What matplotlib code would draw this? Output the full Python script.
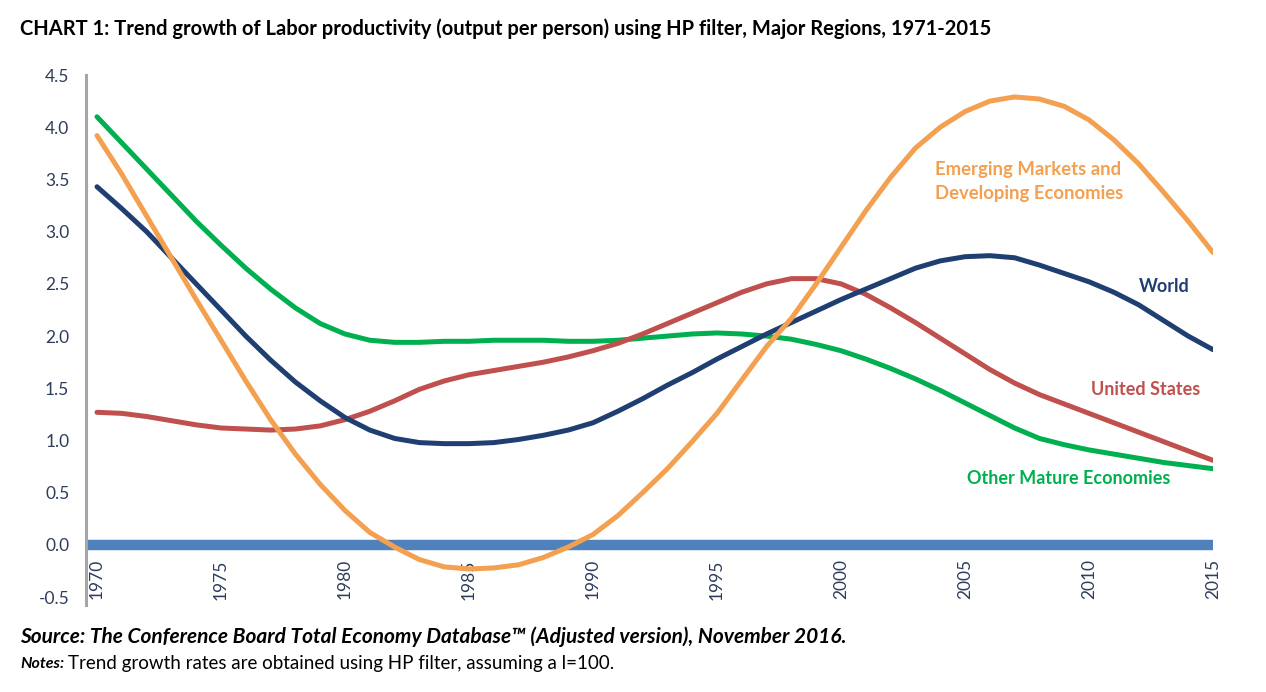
import numpy as np
import matplotlib
matplotlib.use("Agg")
import matplotlib.pyplot as plt

plt.rcParams['font.family'] = ['Lato', 'DejaVu Sans']

years = list(range(1970, 2016))

world = [3.43, 3.22, 3.00, 2.75, 2.50, 2.25, 2.00, 1.77, 1.56, 1.38,
         1.22, 1.10, 1.02, 0.98, 0.97, 0.97, 0.98, 1.01, 1.05, 1.10,
         1.17, 1.28, 1.40, 1.53, 1.65, 1.78, 1.90, 2.02, 2.13, 2.24,
         2.35, 2.45, 2.55, 2.65, 2.72, 2.76, 2.77, 2.75, 2.68, 2.60,
         2.52, 2.42, 2.30, 2.15, 2.00, 1.87]

emerging = [3.92, 3.55, 3.15, 2.75, 2.35, 1.96, 1.57, 1.20, 0.87, 0.58,
            0.33, 0.12, -0.02, -0.14, -0.21, -0.23, -0.22, -0.19, -0.12, -0.02,
            0.10, 0.28, 0.50, 0.73, 0.99, 1.26, 1.58, 1.90, 2.17, 2.50,
            2.85, 3.20, 3.52, 3.80, 4.00, 4.15, 4.25, 4.29, 4.27, 4.20,
            4.07, 3.88, 3.65, 3.38, 3.10, 2.80]

us = [1.27, 1.26, 1.23, 1.19, 1.15, 1.12, 1.11, 1.10, 1.11, 1.14,
      1.20, 1.28, 1.38, 1.49, 1.57, 1.63, 1.67, 1.71, 1.75, 1.80,
      1.86, 1.93, 2.02, 2.12, 2.22, 2.32, 2.42, 2.50, 2.55, 2.55,
      2.50, 2.40, 2.27, 2.13, 1.98, 1.83, 1.68, 1.55, 1.44, 1.35,
      1.26, 1.17, 1.08, 0.99, 0.90, 0.81]

mature = [4.10, 3.85, 3.60, 3.35, 3.10, 2.87, 2.65, 2.45, 2.27, 2.12,
          2.02, 1.96, 1.94, 1.94, 1.95, 1.95, 1.96, 1.96, 1.96, 1.95,
          1.95, 1.96, 1.98, 2.00, 2.02, 2.03, 2.02, 2.00, 1.97, 1.92,
          1.86, 1.78, 1.69, 1.59, 1.48, 1.36, 1.24, 1.12, 1.02, 0.96,
          0.91, 0.87, 0.83, 0.79, 0.76, 0.73]

xticks = list(range(1970, 2016, 5))
yticks = [-0.5, 0.0, 0.5, 1.0, 1.5, 2.0, 2.5, 3.0, 3.5, 4.0, 4.5]

C_WORLD = '#1F3F73'
C_EM = '#F3A050'
C_US = '#C0504D'
C_MAT = '#00B050'
C_TICK = '#2E3D5C'

fig = plt.figure(figsize=(12.66, 6.92), dpi=100)
ax = fig.add_axes([86/1266, 1 - 605/692, (1213 - 86)/1266, (605 - 75)/692])

ax.axhline(0, color='#4F81BD', lw=7.5, zorder=1, solid_capstyle='butt')
kw = dict(lw=3.6, solid_capstyle='round', solid_joinstyle='round', zorder=3)
ax.plot(years, mature, color=C_MAT, **kw)
ax.plot(years, us, color=C_US, **kw)
ax.plot(years, world, color=C_WORLD, **kw)
ax.plot(years, emerging, color=C_EM, **kw)

ax.set_xlim(1970 - 11/24.8, 2015)
ax.set_ylim(-0.575, 4.5)
ax.set_yticks(yticks)
ax.set_yticklabels([f"{v:.1f}" for v in yticks])
ax.set_xticks(xticks)
ax.set_xticklabels([str(y) for y in xticks], rotation=90, va='top')
ax.tick_params(axis='both', length=0, labelsize=12.5, colors=C_TICK)
ax.tick_params(axis='y', pad=12)
ax.tick_params(axis='x', pad=-33)
for s in ['top', 'right', 'bottom']:
    ax.spines[s].set_visible(False)
ax.spines['left'].set_color('#A6A6A6')
ax.spines['left'].set_linewidth(2.2)

lab = dict(fontsize=13, fontweight='bold', transform=ax.transData, va='center')
ax.text(2003.8, 3.48, "Emerging Markets and\nDeveloping Economies",
        color=C_EM, ha='left', linespacing=1.5, fontsize=13.3,
        fontweight='bold', va='center')
ax.text(2012.0, 2.47, "World", color=C_WORLD, ha='left', **lab)
ax.text(2010.1, 1.49, "United States", color=C_US, ha='left', **lab)
ax.text(2005.1, 0.64, "Other Mature Economies", color=C_MAT, ha='left', **lab)

fig.text(20/1266, 1 - 29/692,
         "CHART 1: Trend growth of Labor productivity (output per person) using HP filter, Major Regions, 1971-2015",
         fontsize=14.5, fontweight='bold', color='black', va='center', ha='left')
fig.text(20/1266, 1 - 637/692,
         "Source: The Conference Board Total Economy Database\u2122 (Adjusted version), November 2016.",
         fontsize=15, fontweight='bold', style='italic', va='center', ha='left')
fig.text(20/1266, 1 - 664/692, "Notes:", fontsize=11.5, fontweight='bold',
         style='italic', va='center', ha='left')
fig.text(68/1266, 1 - 664/692, "Trend growth rates are obtained using HP filter, assuming a l=100.",
         fontsize=13.5, va='center', ha='left')

fig.savefig("out.png", dpi=100)
